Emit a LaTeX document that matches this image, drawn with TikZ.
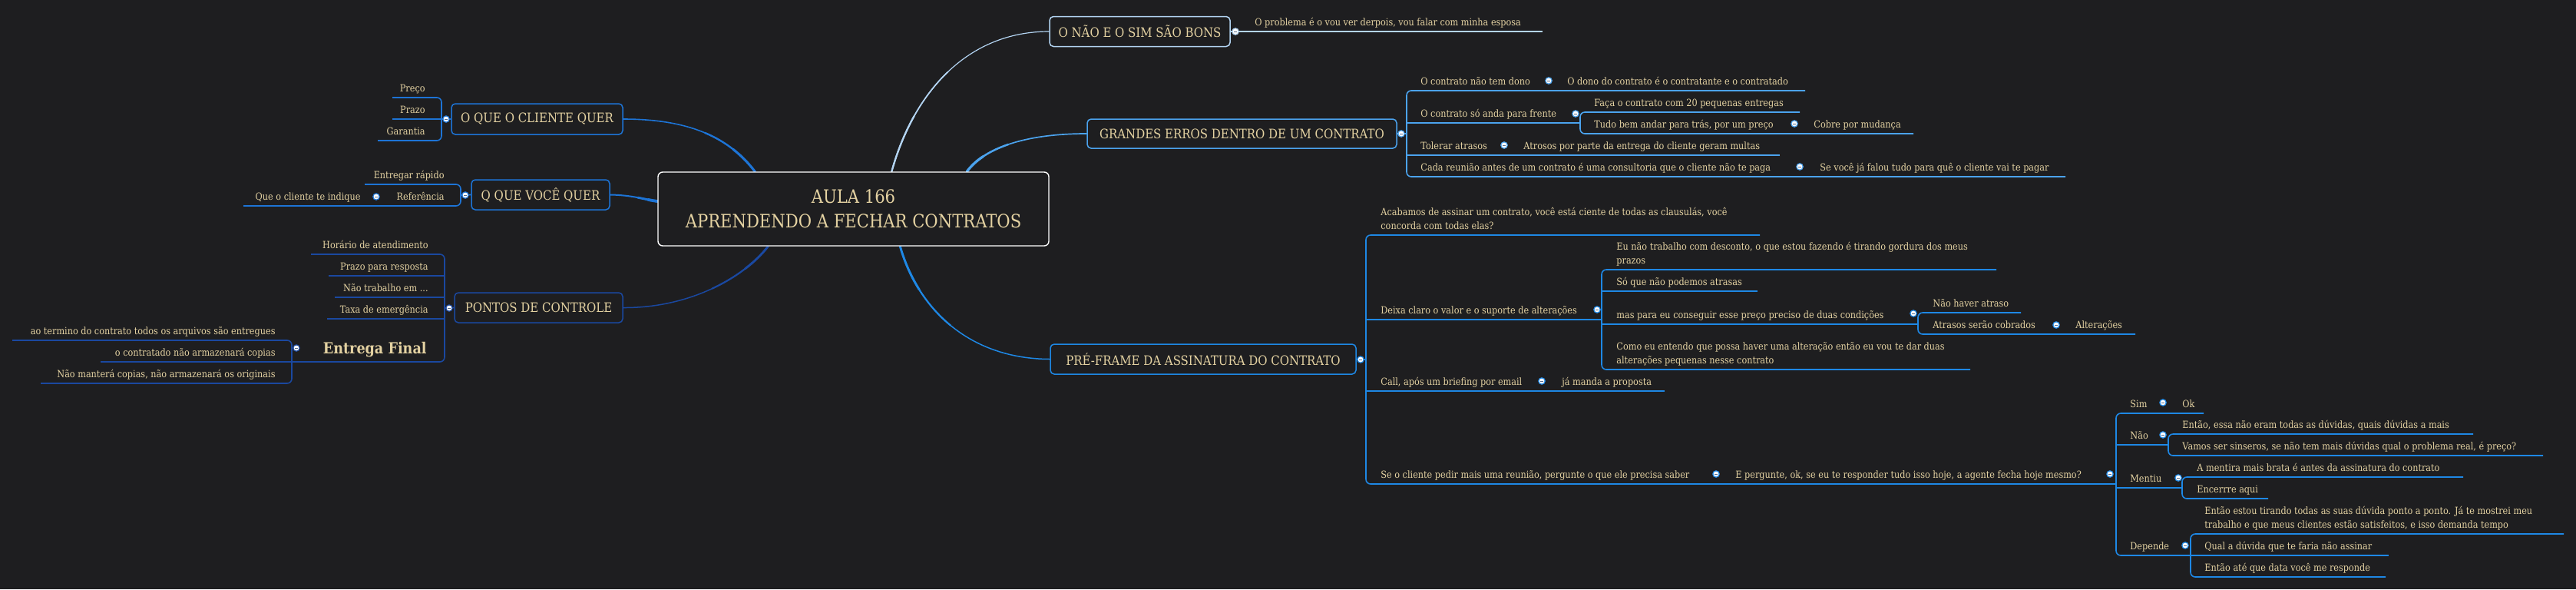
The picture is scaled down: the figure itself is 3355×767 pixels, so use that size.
\documentclass[tikz,border=0pt]{standalone}
\usepackage{fontspec}
\setmainfont{DejaVu Serif}[FakeStretch=0.88]
\usetikzlibrary{calc}
\pgfdeclarelayer{back}
\pgfsetlayers{back,main}
\definecolor{bg}{RGB}{30,30,32}
\definecolor{txt}{RGB}{228,210,162}
\definecolor{cA}{RGB}{29,116,214}
\definecolor{cB}{RGB}{26,72,160}
\definecolor{cC}{RGB}{179,212,242}
\definecolor{cD}{RGB}{75,163,238}
\definecolor{cE}{RGB}{30,136,229}
\definecolor{knobmark}{RGB}{90,110,140}
\tikzset{
  leaf/.style={font=\fontsize{6.4}{9}\selectfont, text=txt, inner sep=0pt},
  bigleaf/.style={font=\fontsize{10}{12}\selectfont\bfseries, text=txt, inner sep=0pt},
  topic/.style={draw=#1, line width=0.75pt, rounded corners=2.5pt, fill=bg, text=txt,
     font=\fontsize{8.5}{10}\selectfont, inner sep=0pt},
  root/.style={draw=white, line width=0.7pt, rounded corners=3pt, fill=bg, text=txt,
     font=\fontsize{12}{16}\selectfont, align=center, inner sep=0pt},
  ln/.style={draw=#1, line width=0.8pt, rounded corners=3pt},
  knob/.style={circle, fill=white, draw=#1, line width=0.6pt, minimum size=4.2pt, inner sep=0pt,
     path picture={\draw[draw=knobmark, line width=0.5pt] ($(path picture bounding box.center)+(-1pt,0)$) -- ++(2pt,0);}},
}
\newcommand\RL[5]{\node[leaf,anchor=base west] (#1) at (#2,#3-8) {#5};\coordinate (#1-e) at (#4,#3);}
\newcommand\LL[5]{\node[leaf,anchor=base east] (#1) at (#2,#3-8) {#5};\coordinate (#1-e) at (#4,#3);}
% split a cubic (#1,#2,#3,#4) at t=0.5, prefix #5; second half = (#5m) .. (#5e) and (#5c) .. (#4)
\newcommand\splitc[5]{%
 \coordinate (#5a) at ($(#1)!.5!(#2)$);
 \coordinate (#5b) at ($(#2)!.5!(#3)$);
 \coordinate (#5c) at ($(#3)!.5!(#4)$);
 \coordinate (#5d) at ($(#5a)!.5!(#5b)$);
 \coordinate (#5e) at ($(#5b)!.5!(#5c)$);
 \coordinate (#5m) at ($(#5d)!.5!(#5e)$);}
% tapered main connector: colour, start, c1, c2, end, prefix, base width (pt)
\newcommand\MC[7]{%
 \coordinate (#6P1) at #3; \coordinate (#6P2) at #4;
 \splitc{#2}{#6P1}{#6P2}{#5}{#6h}
 \splitc{#6hm}{#6he}{#6hc}{#5}{#6q}
 \draw[#1, line width=#7pt, line cap=round] (#2) .. controls (#6P1) and (#6P2) .. (#5);
 \draw[#1, line width=1.45*#7pt, line cap=round] (#6hm) .. controls (#6he) and (#6hc) .. (#5);
 \draw[#1, line width=1.9*#7pt, line cap=round] (#6qm) .. controls (#6qe) and (#6qc) .. (#5);}
\begin{document}
\begin{tikzpicture}[x=0.5pt,y=-0.5pt]
\useasboundingbox (0,0) rectangle (3355,767);
\begin{pgfonlayer}{back}
\fill[bg] (0,0) rectangle (3355,767);
\end{pgfonlayer}

% ---------- root ----------
\node[root, minimum width=254.5pt, minimum height=48pt] (root) at (1111.5,272) {AULA 166\\APRENDENDO A FECHAR CONTRATOS};
\coordinate (rA) at ($(root.north west)+(127,0)$);
\coordinate (rB) at ($(root.west)+(0,-10)$);
\coordinate (rC) at ($(root.south west)+(144,0)$);
\coordinate (rD) at ($(root.north west)+(305,0)$);
\coordinate (rE) at ($(root.north west)+(403,0)$);
\coordinate (rF) at ($(root.south west)+(316,0)$);

% ---------- main topics ----------
\node[topic=cA, minimum width=111.5pt, minimum height=20pt] (cq) at (699.5,155) {O QUE O CLIENTE QUER};
\node[topic=cA, minimum width=90pt, minimum height=19.5pt] (vq) at (704,253.5) {Q QUE VOCÊ QUER};
\node[topic=cB, minimum width=109.5pt, minimum height=19.5pt] (pc) at (701.5,400.5) {PONTOS DE CONTROLE};
\node[topic=cC, minimum width=117.5pt, minimum height=19.5pt] (ns) at (1484.5,41) {O NÃO E O SIM SÃO BONS};
\node[topic=cD, minimum width=201.5pt, minimum height=19pt] (ge) at (1617.5,174) {GRANDES ERROS DENTRO DE UM CONTRATO};
\node[topic=cE, minimum width=199pt, minimum height=19.5pt] (pf) at (1567,467.5) {PRÉ-FRAME DA ASSINATURA DO CONTRATO};

\begin{pgfonlayer}{back}
\MC{cA}{cq.east}{(900,155)}{(950,180)}{rA}{mA}{0.8}
\MC{cA}{vq.east}{(825,254)}{(840,260)}{rB}{mB}{1.0}
\MC{cB}{pc.east}{(900,401)}{(970,360)}{rC}{mC}{0.75}
\MC{cC}{ns.west}{(1260,41)}{(1190,120)}{rD}{mD}{0.6}
\MC{cD}{ge.west}{(1330,174)}{(1280,195)}{rE}{mE}{0.85}
\MC{cE}{pf.west}{(1260,467)}{(1195,400)}{rF}{mF}{0.75}
\end{pgfonlayer}

% ---------- O QUE O CLIENTE QUER ----------
\coordinate (cq-bar) at (575,155);
\LL{preco}{554}{127}{511}{Preço}
\LL{prazo}{554}{155}{511}{Prazo}
\LL{garantia}{554}{183}{492}{Garantia}
\draw[ln=cA] (preco-e) -| (cq-bar) |- (garantia-e);
\draw[ln=cA] (prazo-e) -- (cq.west);
\node[knob=cA] (k-cq) at (581,155) {};

% ---------- Q QUE VOCE QUER ----------
\coordinate (vq-bar) at (600,254);
\LL{entregar}{579}{240}{475}{Entregar rápido}
\LL{ref}{579}{268}{497}{Referência}
\LL{quecli}{470}{268}{317}{Que o cliente te indique}
\draw[ln=cA] (entregar-e) -| (vq-bar) |- (ref-e);
\draw[ln=cA] (vq-bar) -- (vq.west);
\draw[ln=cA] (ref-e) -- (quecli-e);
\node[knob=cA] (k-vq) at (606,254) {};
\node[knob=cA] (k-ref) at (490,256) {};

% ---------- PONTOS DE CONTROLE ----------
\coordinate (pc-bar) at (579,401);
\LL{hor}{558}{331}{405}{Horário de atendimento}
\LL{prr}{558}{359}{428}{Prazo para resposta}
\LL{ntr}{558}{387}{436}{Não trabalho em ...}
\LL{taxa}{558}{415}{426}{Taxa de emergência}
\node[bigleaf, anchor=base east] (ef) at (556,460) {Entrega Final};
\coordinate (ef-e) at (380,471);
\draw[ln=cB] (hor-e) -| (pc-bar) |- (ef-e);
\draw[ln=cB] (prr-e) -- (prr-e -| pc-bar);
\draw[ln=cB] (ntr-e) -- (ntr-e -| pc-bar);
\draw[ln=cB] (taxa-e) -- (taxa-e -| pc-bar);
\draw[ln=cB] (pc-bar) -- (pc.west);
\node[knob=cB] (k-pc) at (585,401) {};
\LL{efa}{359}{443}{16}{ao termino do contrato todos os arquivos são entregues}
\LL{efb}{359}{471}{131}{o contratado não armazenará copias}
\LL{efc}{359}{499}{53}{Não manterá copias, não armazenará os originais}
\draw[ln=cB] (efa-e) -| (ef-e) |- (efc-e);
\draw[ln=cB] (efb-e) -- (ef-e);
\node[knob=cB] (k-ef) at (386,453) {};

% ---------- O NAO E O SIM ----------
\RL{prob}{1634}{41}{2009}{O problema é o vou ver derpois, vou falar com minha esposa}
\draw[ln=cC] (ns.east) -- (prob-e);
\node[knob=cC] (k-ns) at (1609,41) {};

% ---------- GRANDES ERROS ----------
\coordinate (ge-bar) at (1832,174);
\RL{ga}{1850}{118}{2351}{O contrato não tem dono}
\node[leaf,anchor=base west] (gaa) at (2041,110) {O dono do contrato é o contratante e o contratado};
\RL{gb}{1850}{160}{2058}{O contrato só anda para frente}
\RL{gc}{1850}{202}{2318}{Tolerar atrasos}
\node[leaf,anchor=base west] (gca) at (1984,194) {Atrosos por parte da entrega do cliente geram multas};
\RL{gd}{1850}{230}{2690}{Cada reunião antes de um contrato é uma consultoria que o cliente não te paga}
\node[leaf,anchor=base west] (gda) at (2370,222) {Se você já falou tudo para quê o cliente vai te pagar};
\draw[ln=cD] (ga-e) -| (ge-bar) |- (gd-e);
\draw[ln=cD] (gb-e) -- (gb-e -| ge-bar);
\draw[ln=cD] (gc-e) -- (gc-e -| ge-bar);
\draw[ln=cD] (ge.east) -- (ge-bar);
\RL{gba}{2076}{146}{2344}{Faça o contrato com 20 pequenas entregas}
\RL{gbb}{2076}{174}{2492}{Tudo bem andar para trás, por um preço}
\node[leaf,anchor=base west] (gbba) at (2362,166) {Cobre por mudança};
\draw[ln=cD] (gba-e) -| (gb-e) |- (gbb-e);
\node[knob=cD] (k-ge) at (1825,174) {};
\node[knob=cD] (k-ga) at (2017,105) {};
\node[knob=cD] (k-gb) at (2052,148) {};
\node[knob=cD] (k-gbb) at (2337,161) {};
\node[knob=cD] (k-gc) at (1959,189) {};
\node[knob=cD] (k-gd) at (2344,217) {};

% ---------- PRE-FRAME ----------
\coordinate (pf-bar) at (1779,468);
\node[leaf,align=left,anchor=base west] (pa) at (1798,298) {Acabamos de assinar um contrato, você está ciente de todas as clausulás, você\\concorda com todas elas?};
\coordinate (pa-e) at (2292,306);
\RL{pb}{1798}{416}{2086}{Deixa claro o valor e o suporte de alterações}
\RL{pc3}{1798}{509}{2168}{Call, após um briefing por email}
\node[leaf,anchor=base west] (pc3a) at (2034,501) {já manda a proposta};
\RL{pd}{1798}{630}{2756}{Se o cliente pedir mais uma reunião, pergunte o que ele precisa saber}
\node[leaf,anchor=base west] (pda) at (2260,622) {E pergunte, ok, se eu te responder tudo isso hoje, a agente fecha hoje mesmo?};
\draw[ln=cE] (pa-e) -| (pf-bar) |- (pd-e);
\draw[ln=cE] (pb-e) -- (pb-e -| pf-bar);
\draw[ln=cE] (pc3-e) -- (pc3-e -| pf-bar);
\draw[ln=cE] (pf.east) -- (pf-bar);

% Deixa claro group
\node[leaf,align=left,anchor=base west] (pba) at (2105,343) {Eu não trabalho com desconto, o que estou fazendo é tirando gordura dos meus\\prazos};
\coordinate (pba-e) at (2600,351);
\RL{pbb}{2105}{379}{2289}{Só que não podemos atrasas}
\RL{pbc}{2105}{422}{2498}{mas para eu conseguir esse preço preciso de duas condições}
\node[leaf,align=left,anchor=base west] (pbd) at (2105,473) {Como eu entendo que possa haver uma alteração então eu vou te dar duas\\alterações pequenas nesse contrato};
\coordinate (pbd-e) at (2566,481);
\draw[ln=cE] (pba-e) -| (pb-e) |- (pbd-e);
\draw[ln=cE] (pbb-e) -- (pbb-e -| pb-e);
\draw[ln=cE] (pbc-e) -- (pbc-e -| pb-e);
\RL{pbca}{2517}{407}{2632}{Não haver atraso}
\RL{pbcb}{2517}{435}{2781}{Atrasos serão cobrados}
\node[leaf,anchor=base west] (pbcba) at (2703,427) {Alterações};
\draw[ln=cE] (pbca-e) -| (pbc-e) |- (pbcb-e);

% Se o cliente group
\RL{sim}{2774}{538}{2870}{Sim}
\node[leaf,anchor=base west] (ok) at (2842,530) {Ok};
\RL{nao}{2774}{579}{2824}{Não}
\RL{ment}{2774}{635}{2842}{Mentiu}
\RL{dep}{2774}{723}{2853}{Depende}
\draw[ln=cE] (sim-e) -| (pd-e) |- (dep-e);
\draw[ln=cE] (nao-e) -- (nao-e -| pd-e);
\draw[ln=cE] (ment-e) -- (ment-e -| pd-e);
\RL{naoa}{2842}{565}{3221}{Então, essa não eram todas as dúvidas, quais dúvidas a mais}
\RL{naob}{2842}{593}{3312}{Vamos ser sinseros, se não tem mais dúvidas qual o problema real, é preço?}
\draw[ln=cE] (naoa-e) -| (nao-e) |- (naob-e);
\RL{menta}{2861}{621}{3208}{A mentira mais brata é antes da assinatura do contrato}
\RL{mentb}{2861}{649}{2954}{Encerrre aqui}
\draw[ln=cE] (menta-e) -| (ment-e) |- (mentb-e);
\node[leaf,align=left,anchor=base west] (depa) at (2871,687) {Então estou tirando todas as suas dúvida ponto a ponto. Já te mostrei meu\\trabalho e que meus clientes estão satisfeitos, e isso demanda tempo};
\coordinate (depa-e) at (3339,695);
\RL{depb}{2871}{723}{3111}{Qual a dúvida que te faria não assinar}
\RL{depc}{2871}{751}{3107}{Então até que data você me responde}
\draw[ln=cE] (depa-e) -| (dep-e) |- (depc-e);
\draw[ln=cE] (depb-e) -- (dep-e);

\node[knob=cE] (k-pf) at (1772,468) {};
\node[knob=cE] (k-pb) at (2080,403) {};
\node[knob=cE] (k-pbc) at (2492,408) {};
\node[knob=cE] (k-pbcb) at (2678,423) {};
\node[knob=cE] (k-pc3) at (2008,496) {};
\node[knob=cE] (k-pd) at (2235,617) {};
\node[knob=cE] (k-pda) at (2748,617) {};
\node[knob=cE] (k-sim) at (2817,524) {};
\node[knob=cE] (k-nao) at (2817,566) {};
\node[knob=cE] (k-ment) at (2837,622) {};
\node[knob=cE] (k-dep) at (2846,710) {};
\end{tikzpicture}
\end{document}
